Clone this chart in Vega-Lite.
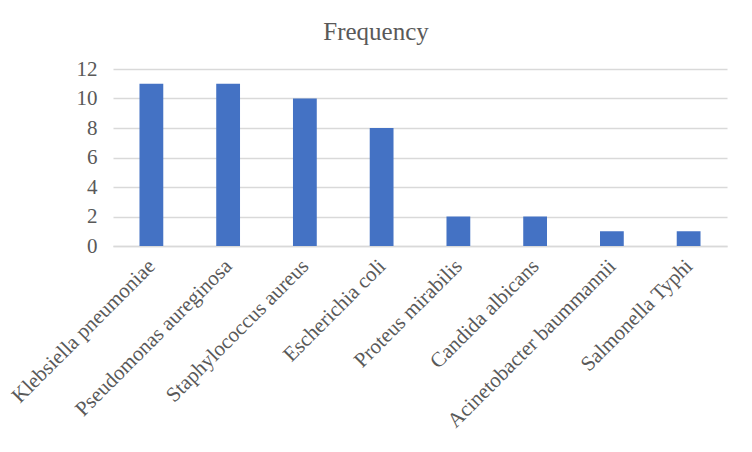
{
  "$schema": "https://vega.github.io/schema/vega-lite/v6.json",
  "autosize": {"type": "none"},
  "padding": {"left": 113, "top": 69, "right": 25, "bottom": 206},
  "width": 614,
  "height": 177,
  "background": "white",
  "title": {
    "text": "Frequency",
    "font": "Liberation Serif",
    "fontSize": 25,
    "fontWeight": "normal",
    "color": "#595959",
    "anchor": "middle",
    "dx": -44,
    "offset": 13
  },
  "data": {
    "values": [
      {"organism": "Klebsiella pneumoniae", "frequency": 11},
      {"organism": "Pseudomonas aureginosa", "frequency": 11},
      {"organism": "Staphylococcus aureus", "frequency": 10},
      {"organism": "Escherichia coli", "frequency": 8},
      {"organism": "Proteus mirabilis", "frequency": 2},
      {"organism": "Candida albicans", "frequency": 2},
      {"organism": "Acinetobacter baummannii", "frequency": 1},
      {"organism": "Salmonella Typhi", "frequency": 1}
    ]
  },
  "mark": {"type": "bar", "color": "#4472C4"},
  "encoding": {
    "x": {
      "field": "organism",
      "type": "nominal",
      "sort": null,
      "scale": {"paddingInner": 0.69, "paddingOuter": 0.345},
      "axis": {
        "title": null,
        "labelAngle": -45,
        "labelFont": "Liberation Serif",
        "labelFontSize": 21,
        "labelColor": "#595959",
        "labelPadding": 9,
        "labelOffset": -7,
        "ticks": false,
        "domainColor": "#d9d9d9",
        "domainWidth": 1.5,
        "labelLimit": 300
      }
    },
    "y": {
      "field": "frequency",
      "type": "quantitative",
      "scale": {"domain": [0, 12]},
      "axis": {
        "title": null,
        "values": [0, 2, 4, 6, 8, 10, 12],
        "labelFont": "Liberation Serif",
        "labelFontSize": 21,
        "labelColor": "#595959",
        "labelPadding": 16,
        "ticks": false,
        "domain": false,
        "gridColor": "#d9d9d9",
        "gridWidth": 1.5
      }
    }
  },
  "config": {
    "view": {"stroke": null}
  }
}
